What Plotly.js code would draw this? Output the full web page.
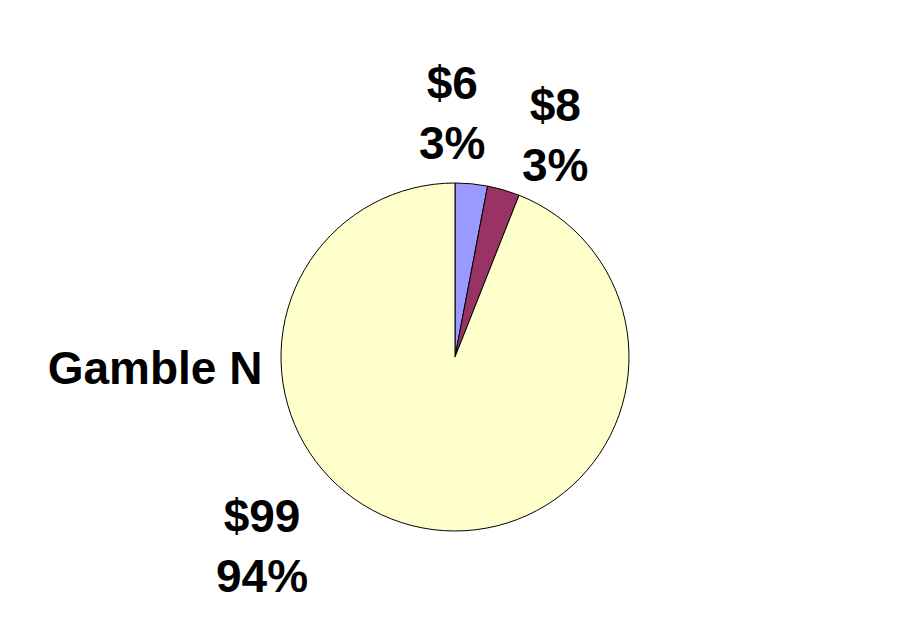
<!DOCTYPE html>
<html>
<head>
<meta charset="utf-8">
<script src="https://cdn.plot.ly/plotly-3.0.1.min.js"></script>
<style>
  html, body { margin:0; padding:0; background:#ffffff; }
  #chart { width:910px; height:622px; }
</style>
</head>
<body>
<div id="chart"></div>
<script>
// slice data
const amounts = ['$6', '$8', '$99'];
const percents = [3, 3, 94];
const colors = ['#9999FF', '#993366', '#FFFFCC'];
const chart_title = 'Gamble N';

// label placement, paper coords (x from left, y from bottom)
const label_pos = [
    {x: 452 / 910, y: 1 - 113 / 622},
    {x: 555 / 910, y: 1 - 135 / 622},
    {x: 262 / 910, y: 1 - 546 / 622},
];

let font_bold = 'Liberation Sans, Arial, sans-serif';

let trace = {
    type: 'pie',
    labels: amounts,
    values: percents,
    sort: false,
    direction: 'clockwise',
    rotation: 0,
    textinfo: 'none',
    hoverinfo: 'none',
    marker: {colors: colors, line: {color: '#000000', width: 1}},
    domain: {x: [281 / 910, 629 / 910], y: [91 / 622, 439 / 622]},
};

let annotations = amounts.map((a, i) => ({
    xref: 'paper', yref: 'paper',
    x: label_pos[i].x, y: label_pos[i].y,
    xanchor: 'center', yanchor: 'middle',
    text: '<b>' + a + '<br>' + percents[i] + '%</b>',
    showarrow: false,
    font: {family: font_bold, size: 46, color: '#000000'},
}));

let layout = {
    width: 910, height: 622,
    margin: {l: 0, r: 0, t: 0, b: 0},
    paper_bgcolor: '#ffffff',
    plot_bgcolor: '#ffffff',
    showlegend: false,
    title: {
        text: '<b>' + chart_title + '</b>',
        x: 155 / 910, y: 1 - 368 / 622,
        xref: 'paper', yref: 'paper',
        xanchor: 'center', yanchor: 'middle',
        font: {family: font_bold, size: 46, color: '#000000'},
    },
    annotations: annotations,
};

Plotly.newPlot('chart', [trace], layout, {displayModeBar: false, staticPlot: true});
</script>
</body>
</html>
